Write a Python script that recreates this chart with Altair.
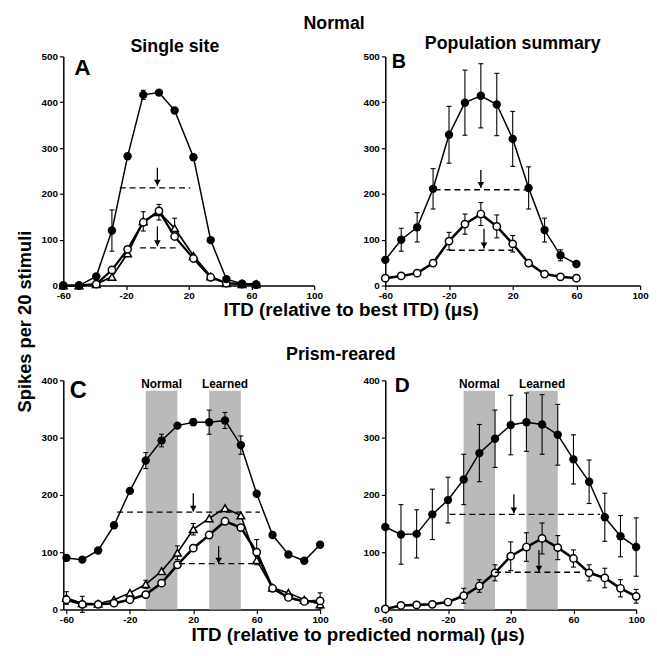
import altair as alt
import pandas as pd

FONT = "Liberation Sans"

# ---------------- Panel A : Normal, single site ----------------
a_itd = [-60, -50, -39, -29, -19, -9, 1, 11, 23, 34, 44, 54, 63]
a_filled = [0, 0, 20, 120, 282, 416, 421, 382, 280, 99, 14, 4, 2]
a_filled_err = [0, 0, 0, 45, 0, 10, 0, 0, 0, 0, 0, 0, 0]
a_open = [0, 0, 3, 34, 79, 138, 163, 107, 59, 18, 5, 3, 2]
a_open_err = [0] * 13
a_tri = [0, 0, 3, 19, 70, 140, 160, 125, 65, 20, 5, 3, 3]
a_tri_err = [0, 0, 0, 0, 0, 21, 17, 22, 0, 0, 0, 0, 0]
a_half_from = [-24, -11]
a_half_to = [21, 14]
a_half_y = [213, 82]
a_arrow_x = [0, 0]
a_arrow_top = [257, 129]
a_arrow_tip = [218, 86]

# ---------------- Panel B : Normal, population summary ----------------
b_itd = [-60, -50, -40, -30, -20, -10, 0, 10, 20, 30, 40, 50, 60]
b_filled = [56, 100, 127, 211, 329, 399, 414, 395, 320, 213, 121, 66, 47]
b_filled_err = [0, 25, 32, 44, 62, 71, 70, 68, 60, 46, 26, 12, 0]
b_open = [16, 21, 27, 49, 97, 134, 156, 129, 91, 49, 25, 19, 16]
b_open_err = [0, 0, 0, 0, 19, 22, 25, 25, 18, 0, 0, 0, 0]
b_half_from = [-29, -20]
b_half_to = [29, 20]
b_half_y = [209, 77]
b_arrow_x = [0, 2]
b_arrow_top = [252, 124]
b_arrow_tip = [213, 81]

# ---------------- Panel C : Prism-reared, single site ----------------
c_itd = [-60, -50, -40, -30, -20, -10, 0, 10, 20, 30, 40, 50, 60, 70, 80, 90, 100]
c_filled = [90, 87, 103, 147, 207, 260, 295, 321, 327, 327, 330, 287, 202, 130, 96, 85, 113]
c_filled_err = [0, 0, 0, 0, 0, 14, 11, 0, 6, 21, 14, 16, 0, 0, 0, 0, 0]
c_open = [17, 9, 9, 11, 17, 26, 46, 78, 107, 130, 154, 143, 100, 37, 21, 14, 15]
c_open_err = [0, 14, 0, 0, 0, 0, 0, 0, 0, 0, 0, 0, 22, 0, 0, 0, 14]
c_tri = [20, 11, 10, 17, 29, 44, 67, 99, 140, 159, 177, 164, 86, 38, 29, 17, 9]
c_tri_err = [11, 0, 0, 0, 0, 7, 0, 12, 10, 0, 0, 0, 0, 0, 0, 0, 0]
c_half_from = [-28, 11]
c_half_to = [62, 59]
c_half_y = [170, 80]
c_arrow_x = [20, 36]
c_arrow_top = [203, 111]
c_arrow_tip = [171, 80]

# ---------------- Panel D : Prism-reared, population summary ----------------
d_itd = [-60, -50, -40, -30, -20, -10, 0, 10, 20, 30, 40, 50, 60, 70, 80, 90, 100]
d_filled = [144, 131, 132, 166, 191, 227, 273, 298, 322, 327, 323, 305, 262, 223, 161, 128, 109]
d_filled_err = [0, 52, 42, 44, 40, 44, 50, 50, 52, 51, 52, 53, 43, 38, 42, 36, 51]
d_open = [1, 7, 8, 9, 13, 24, 41, 64, 93, 109, 124, 108, 89, 64, 55, 37, 23]
d_open_err = [0, 0, 0, 0, 0, 13, 11, 14, 25, 25, 27, 21, 15, 14, 17, 15, 12]
d_half_from = [-19, 10]
d_half_to = [77, 65]
d_half_y = [166, 65]
d_arrow_x = [22, 38]
d_arrow_top = [201, 104]
d_arrow_tip = [168, 66]

# shaded ITD ranges in prism-reared panels
band_names = ["Normal", "Learned"]
band_from = [-10, 30]
band_to = [10, 50]
band_top = 382
band_label_y = 386

panel_letters = ["A", "B", "C", "D"]


def x_enc(domain, ticks, title=None, **kw):
    axis_kw = dict(
        values=ticks,
        labelExpr="datum.value % 20 == 0 ? '' + datum.value : ''",
        grid=False, domainColor="black", domainWidth=1.5,
        tickColor="black", tickSize=4, tickWidth=1.2,
        labelFont=FONT, labelFontSize=10, labelFontWeight="bold",
        labelColor="black", labelPadding=1, labelFlush=False,
    )
    axis_kw.update(kw)
    if title is None:
        axis = alt.Axis(title=None, **axis_kw)
    else:
        axis = alt.Axis(title=title, titleFont=FONT, titleFontSize=19,
                        titleFontWeight="bold", titleColor="black",
                        titleAlign="center", titleBaseline="alphabetic", **axis_kw)
    return alt.X("x:Q", scale=alt.Scale(domain=domain, nice=False, zero=False), axis=axis)


def y_enc(domain, ticks, title=None, **kw):
    axis_kw = dict(
        values=ticks,
        labelExpr="datum.value % 100 == 0 ? '' + datum.value : ''",
        grid=False, domainColor="black", domainWidth=1.5,
        tickColor="black", tickSize=4, tickWidth=1.2,
        labelFont=FONT, labelFontSize=10, labelFontWeight="bold",
        labelColor="black", labelPadding=2,
    )
    axis_kw.update(kw)
    if title is None:
        axis = alt.Axis(title=None, **axis_kw)
    else:
        axis = alt.Axis(title=title, titleFont=FONT, titleFontSize=18.5,
                        titleFontWeight="bold", titleColor="black",
                        titleAlign="center", titleBaseline="alphabetic",
                        titleAngle=270, **axis_kw)
    return alt.Y("y:Q", scale=alt.Scale(domain=domain, nice=False, zero=True), axis=axis)


def panel(itd, series, half_from, half_to, half_y, arrow_x, arrow_top, arrow_tip,
          letter, letter_pos, letter_size, xdom, ydom, xticks, yticks, width, height,
          title=None, bands=False, x_title=None, x_title_kw=None, y_title=None, y_title_kw=None):
    X = x_enc(xdom, xticks, x_title, **(x_title_kw or {}))
    Y = y_enc(ydom, yticks, y_title, **(y_title_kw or {}))
    sx = alt.Scale(domain=xdom, nice=False, zero=False)
    sy = alt.Scale(domain=ydom, nice=False, zero=True)
    layers = []

    base_df = pd.DataFrame({"x": [itd[0]], "y": [0]})
    layers.append(alt.Chart(base_df).mark_point(opacity=0).encode(x=X, y=Y))

    if bands:
        bdf = pd.DataFrame({"x": band_from, "x2": band_to, "y": [0, 0],
                            "y2": [band_top, band_top], "name": band_names,
                            "xc": [(a + b) / 2 for a, b in zip(band_from, band_to)],
                            "ly": [band_label_y, band_label_y]})
        layers.append(alt.Chart(bdf).mark_rect(color="#bababa").encode(
            x=alt.X("x:Q", scale=sx), x2="x2", y=alt.Y("y:Q", scale=sy), y2="y2"))
        layers.append(alt.Chart(bdf).mark_text(font=FONT, fontSize=12, fontWeight="bold",
                                               color="black", baseline="alphabetic").encode(
            x=alt.X("xc:Q", scale=sx), y=alt.Y("ly:Q", scale=sy), text="name:N"))

    for s in series:
        df = pd.DataFrame({"x": itd, "y": s["y"]})
        layers.append(alt.Chart(df).mark_line(color="black", strokeWidth=s["lw"]).encode(
            x=alt.X("x:Q", scale=sx), y=alt.Y("y:Q", scale=sy)))
    for s in series:
        df = pd.DataFrame({"x": itd, "y": s["y"], "err": s["err"]})
        df = df[df["err"] > 0].copy()
        if len(df) == 0:
            continue
        df["lo"] = df["y"] - df["err"]
        df["hi"] = df["y"] + df["err"]
        layers.append(alt.Chart(df).mark_rule(color="black", strokeWidth=1.1).encode(
            x=alt.X("x:Q", scale=sx), y=alt.Y("lo:Q", scale=sy), y2="hi"))
        for f in ["lo", "hi"]:
            layers.append(alt.Chart(df).mark_rule(color="black", strokeWidth=1.1,
                                                  xOffset=-2.5, x2Offset=2.5).encode(
                x=alt.X("x:Q", scale=sx), x2="x", y=alt.Y(f"{f}:Q", scale=sy)))
    for s in series:
        df = pd.DataFrame({"x": itd, "y": s["y"]})
        if s["kind"] == "filled":
            m = alt.Chart(df).mark_point(shape="circle", filled=True, color="black", size=72, opacity=1)
        elif s["kind"] == "open":
            m = alt.Chart(df).mark_point(shape="circle", filled=True, fill="white", stroke="black",
                                         strokeWidth=1.5, size=55, opacity=1)
        else:
            m = alt.Chart(df).mark_point(shape="triangle-up", filled=True, fill="white", stroke="black",
                                         strokeWidth=1.5, size=60, opacity=1)
        layers.append(m.encode(x=alt.X("x:Q", scale=sx), y=alt.Y("y:Q", scale=sy)))

    hdf = pd.DataFrame({"x": half_from, "x2": half_to, "y": half_y})
    layers.append(alt.Chart(hdf).mark_rule(color="black", strokeWidth=1.3, strokeDash=[6, 4]).encode(
        x=alt.X("x:Q", scale=sx), x2="x2", y=alt.Y("y:Q", scale=sy)))
    adf = pd.DataFrame({"x": arrow_x, "y": arrow_top, "y2": arrow_tip})
    layers.append(alt.Chart(adf).mark_rule(color="black", strokeWidth=1.3).encode(
        x=alt.X("x:Q", scale=sx), y=alt.Y("y:Q", scale=sy), y2="y2"))
    layers.append(alt.Chart(adf).mark_point(shape="triangle-down", filled=True, color="black",
                                            size=45, opacity=1, yOffset=-3).encode(
        x=alt.X("x:Q", scale=sx), y=alt.Y("y2:Q", scale=sy)))

    ldf = pd.DataFrame({"x": [letter_pos[0]], "y": [letter_pos[1]], "t": [letter]})
    layers.append(alt.Chart(ldf).mark_text(font=FONT, fontSize=letter_size, fontWeight="bold",
                                           color="black", align="left", baseline="alphabetic").encode(
        x=alt.X("x:Q", scale=sx), y=alt.Y("y:Q", scale=sy), text="t:N"))

    props = dict(width=width, height=height)
    if title is not None:
        props["title"] = title
    return alt.layer(*layers).properties(**props)


ticks_x = list(range(-60, 101, 10))
ticks_y5 = list(range(0, 501, 50))
ticks_y4 = list(range(0, 401, 50))


def ttl(text, **kw):
    return alt.Title(text, font=FONT, fontSize=18, fontWeight="bold", color="black",
                     anchor="middle", **kw)


chartA = panel(
    a_itd,
    [dict(y=a_tri, err=a_tri_err, kind="tri", lw=1.8),
     dict(y=a_open, err=a_open_err, kind="open", lw=2.2),
     dict(y=a_filled, err=a_filled_err, kind="filled", lw=1.5)],
    a_half_from, a_half_to, a_half_y, a_arrow_x, a_arrow_top, a_arrow_tip,
    panel_letters[0], (-53, 459), 23, [-60, 100], [0, 500], ticks_x, ticks_y5, 254, 232,
    title=ttl("Single site", dx=-14, offset=-5, frame="group"),
    x_title="ITD (relative to best ITD) (\u03bcs)", x_title_kw=dict(titleX=291, titleY=30),
    y_title="Spikes per 20 stimuli", y_title_kw=dict(titleX=-33, titleY=268),
)
chartB = panel(
    b_itd,
    [dict(y=b_open, err=b_open_err, kind="open", lw=2.5),
     dict(y=b_filled, err=b_filled_err, kind="filled", lw=1.5)],
    b_half_from, b_half_to, b_half_y, b_arrow_x, b_arrow_top, b_arrow_tip,
    panel_letters[1], (-56, 474), 20, [-60, 100], [0, 500], ticks_x, ticks_y5, 258, 232,
    title=ttl("Population summary", offset=-2, frame="group"),
)
chartC = panel(
    c_itd,
    [dict(y=c_tri, err=c_tri_err, kind="tri", lw=1.6),
     dict(y=c_open, err=c_open_err, kind="open", lw=2.6),
     dict(y=c_filled, err=c_filled_err, kind="filled", lw=1.5)],
    c_half_from, c_half_to, c_half_y, c_arrow_x, c_arrow_top, c_arrow_tip,
    panel_letters[2], (-58, 369), 24, [-62, 100], [0, 400], ticks_x, ticks_y4, 260, 232,
    title=ttl("Prism-reared", dx=151, offset=12, frame="group"),
    bands=True,
    x_title="ITD (relative to predicted normal) (\u03bcs)", x_title_kw=dict(titleX=298, titleY=31),
)
chartD = panel(
    d_itd,
    [dict(y=d_open, err=d_open_err, kind="open", lw=2.6),
     dict(y=d_filled, err=d_filled_err, kind="filled", lw=1.5)],
    d_half_from, d_half_to, d_half_y, d_arrow_x, d_arrow_top, d_arrow_tip,
    panel_letters[3], (-54, 379), 21, [-60, 100], [0, 400], ticks_x, ticks_y4, 254, 232,
    bands=True,
)

chart = alt.concat(
    chartA, chartB, chartC, chartD, columns=2,
    spacing={"row": 96, "column": 66}, bounds="flush", align="none",
).properties(
    title=ttl("Normal", dx=2, offset=3),
    padding={"left": 8, "top": 3, "right": 0, "bottom": 0},
    background="white",
).configure_view(stroke=None)

chart.save("out.html", embed_options={"renderer": "svg", "actions": False})
